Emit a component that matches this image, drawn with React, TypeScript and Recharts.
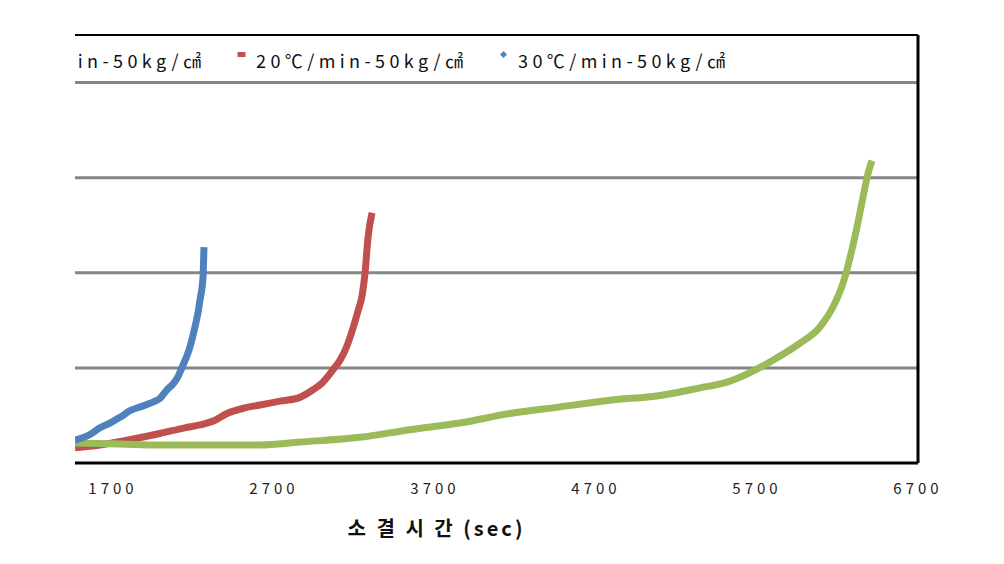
import { LineChart, Line, XAxis, YAxis, ReferenceLine } from 'recharts';

// sintering time (sec) and shrinkage-like response
const time10 = [1464, 1743, 1992, 2302, 2613, 2861, 3234, 3545, 3855, 4166, 4476, 4787, 5098, 5346, 5514, 5657, 5799, 5967, 6091, 6172, 6234, 6278, 6321, 6358, 6389, 6414];
const val10 = [0.21, 0.2, 0.19, 0.19, 0.19, 0.22, 0.27, 0.35, 0.42, 0.52, 0.59, 0.66, 0.71, 0.79, 0.85, 0.95, 1.08, 1.26, 1.43, 1.64, 1.89, 2.16, 2.48, 2.79, 3.04, 3.18];

const time20 = [1464, 1619, 1787, 1992, 2147, 2240, 2334, 2408, 2520, 2613, 2737, 2861, 2942, 2998, 3066, 3110, 3153, 3191, 3222, 3247, 3265, 3284, 3309];
const val20 = [0.16, 0.19, 0.24, 0.31, 0.37, 0.4, 0.45, 0.52, 0.58, 0.61, 0.65, 0.69, 0.77, 0.84, 0.98, 1.08, 1.23, 1.42, 1.6, 1.76, 1.99, 2.37, 2.63];

const time30 = [1464, 1557, 1619, 1681, 1743, 1806, 1868, 1948, 1992, 2035, 2073, 2098, 2135, 2160, 2178, 2209, 2228, 2240, 2259, 2265];
const val30 = [0.24, 0.3, 0.37, 0.42, 0.48, 0.55, 0.59, 0.64, 0.68, 0.77, 0.83, 0.89, 1.03, 1.13, 1.22, 1.43, 1.58, 1.71, 1.95, 2.27];

const xTicks = [1700, 2700, 3700, 4700, 5700, 6700];
const gridValues = [1, 2, 3, 4];

const zip = (xs: number[], ys: number[]) => xs.map((t, i) => ({ t, v: ys[i] }));

const series = [
  { name: '10℃/min-50kg/㎠', color: '#9BBB59', marker: 'triangle', data: zip(time10, val10) },
  { name: '20℃/min-50kg/㎠', color: '#C0504D', marker: 'square', data: zip(time20, val20) },
  { name: '30℃/min-50kg/㎠', color: '#4F81BD', marker: 'diamond', data: zip(time30, val30) },
];

const drawOrder = [1, 0, 2];
const FONT = '"Noto Sans CJK KR", "Noto Sans", sans-serif';

function Marker({ kind, color }: { kind: string; color: string }) {
  return (
    <svg width={9} height={9} style={{ position: 'absolute', left: 0, top: 6 }}>
      {kind === 'square' && <rect x={0.5} y={2} width={8} height={5} fill={color} />}
      {kind === 'diamond' && <polygon points="4.5,1 8,4.5 4.5,8 1,4.5" fill={color} />}
      {kind === 'triangle' && <polygon points="4.5,1 8,8 1,8" fill={color} />}
    </svg>
  );
}

function TopLegend() {
  return (
    <div
      style={{
        position: 'absolute',
        left: 75,
        top: 44,
        width: 843,
        height: 34,
        overflow: 'hidden',
        fontFamily: FONT,
      }}
    >
      <div style={{ position: 'absolute', left: -100, top: 0, display: 'flex', whiteSpace: 'nowrap' }}>
        {series.map((s) => (
          <div key={s.name} style={{ position: 'relative', width: 262, height: 34 }}>
            <Marker kind={s.marker} color={s.color} />
            <span
              style={{
                position: 'absolute',
                left: 19,
                top: 2,
                fontSize: 18,
                letterSpacing: 4.4,
                color: '#111',
                lineHeight: '28px',
              }}
            >
              {s.name}
            </span>
          </div>
        ))}
      </div>
    </div>
  );
}

export default function App() {
  return (
    <div style={{ position: 'absolute', left: 0, top: 0, width: 1004, height: 564, background: '#fff' }}>
      <LineChart
        width={1004}
        height={564}
        margin={{ top: 35, right: 86, bottom: 71, left: 75 }}
        style={{ fontFamily: FONT }}
      >
        <XAxis
          type="number"
          dataKey="t"
          domain={[1464, 6700]}
          ticks={xTicks}
          allowDataOverflow
          height={30}
          tickLine={false}
          axisLine={{ stroke: '#000', strokeWidth: 3 }}
          tick={{ fill: '#222', fontSize: 15, letterSpacing: 4, dy: 12 }}
          interval={0}
          label={{
            value: '소 결 시 간 (sec)',
            position: 'bottom',
            dx: -60,
            dy: 24,
            style: { fontSize: 20, fontWeight: 700, fill: '#111', letterSpacing: 3 },
          }}
        />
        <YAxis type="number" domain={[0, 4.5]} width={0} tick={false} axisLine={false} tickLine={false} allowDataOverflow />
        {gridValues.map((g) => (
          <ReferenceLine key={g} y={g} stroke="#868686" strokeWidth={3} />
        ))}
        <ReferenceLine y={4.5} stroke="#000" strokeWidth={2} />
        <ReferenceLine x={6700} stroke="#000" strokeWidth={3} />
        {drawOrder.map((i) => {
          const s = series[i];
          return (
            <Line
              key={s.name}
              data={s.data}
              dataKey="v"
              name={s.name}
              type="monotone"
              stroke={s.color}
              strokeWidth={7}
              dot={false}
              isAnimationActive={false}
            />
          );
        })}
      </LineChart>
      <TopLegend />
    </div>
  );
}
